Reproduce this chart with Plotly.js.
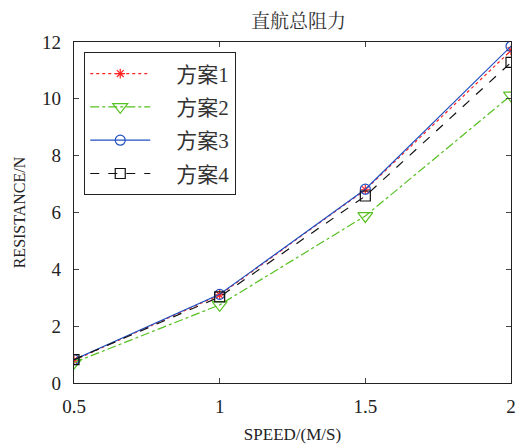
<!DOCTYPE html>
<html><head><meta charset="utf-8">
<script src="https://cdn.plot.ly/plotly-3.0.1.min.js"></script>
<style>body{margin:0;background:#fff}</style>
</head><body>
<div id="chart" style="width:519px;height:445px"></div>
<script>
const speed = [0.5, 1, 1.5, 2];
const names = ['方案1', '方案2', '方案3', '方案4'];
const plan1 = [0.80, 3.10, 6.80, 11.70];
const plan2 = [0.72, 2.75, 5.88, 10.12];
const plan3 = [0.82, 3.12, 6.82, 11.85];
const plan4 = [0.82, 3.03, 6.58, 11.28];
const xTicks = [0.5, 1, 1.5, 2];
const yTicks = [0, 2, 4, 6, 8, 10, 12];

const pad = '\u2003';
const font = {family: '"Liberation Serif", "Noto Sans CJK SC", serif', size: 19, color: '#222'};
const traces = [
  {x: speed, y: plan1, name: pad + names[0], legendgroup: 'a', mode: 'lines+markers',
   line: {color: '#ff2020', dash: 'dot', width: 1.2},
   marker: {symbol: 'asterisk-open', size: 8, color: '#ff2020', line: {color: '#ff2020', width: 1.2}}},
  {x: speed, y: plan2, name: pad + names[1], legendgroup: 'b', mode: 'lines+markers',
   line: {color: '#55c020', dash: 'dashdot', width: 1.2},
   marker: {symbol: 'triangle-down-open', size: 13, color: '#55c020', line: {color: '#55c020', width: 1.2}}},
  {x: speed, y: plan3, name: pad + names[2], legendgroup: 'c', mode: 'lines+markers',
   line: {color: '#2050c0', dash: 'solid', width: 1.2},
   marker: {symbol: 'circle-open', size: 10, color: '#2050c0', line: {color: '#2050c0', width: 1.2}}},
  {x: speed, y: plan4, name: pad + names[3], legendgroup: 'd', mode: 'lines+markers',
   line: {color: '#111', dash: 'dash', width: 1.2},
   marker: {symbol: 'square-open', size: 10, color: '#111', line: {color: '#111', width: 1.2}}}
];
const layout = {
  width: 519, height: 445,
  margin: {l: 74, r: 8, t: 42, b: 62},
  paper_bgcolor: '#fff', plot_bgcolor: '#fff',
  font: font,
  title: {text: '直航总阻力', x: 0.575, xanchor: 'center', y: 0.953, yanchor: 'middle',
          font: {family: '"Noto Serif CJK SC", "Noto Sans CJK SC", serif', size: 19, color: '#333'}},
  showlegend: true,
  legend: {x: 0.023, y: 0.97, xanchor: 'left', yanchor: 'top', bgcolor: '#fff',
           bordercolor: '#222', borderwidth: 1.2,
           font: {size: 21, family: '"Liberation Serif", "Noto Sans CJK SC", serif', color: '#333'},
           tracegroupgap: 3, itemwidth: 60},
  xaxis: {range: [0.5, 2], tickvals: xTicks, ticktext: xTicks.map(String), ticks: 'inside', ticklen: 5,
          showline: true, linecolor: '#222', linewidth: 1.2, mirror: 'ticks', showgrid: false, zeroline: false,
          ticklabelstandoff: 6,
          tickfont: {size: 19}, title: {text: 'SPEED/(M/S)', font: {size: 17}, standoff: 12}},
  yaxis: {range: [0, 12], tickvals: yTicks, ticktext: yTicks.map(String), ticks: 'inside', ticklen: 5,
          showline: true, linecolor: '#222', linewidth: 1.2, mirror: 'ticks', showgrid: false, zeroline: false,
          ticklabelstandoff: 8,
          tickfont: {size: 19}, title: {text: 'RESISTANCE/N', font: {size: 16}, standoff: 12}}
};
Plotly.newPlot('chart', traces, layout, {displayModeBar: false});
</script>
</body></html>
